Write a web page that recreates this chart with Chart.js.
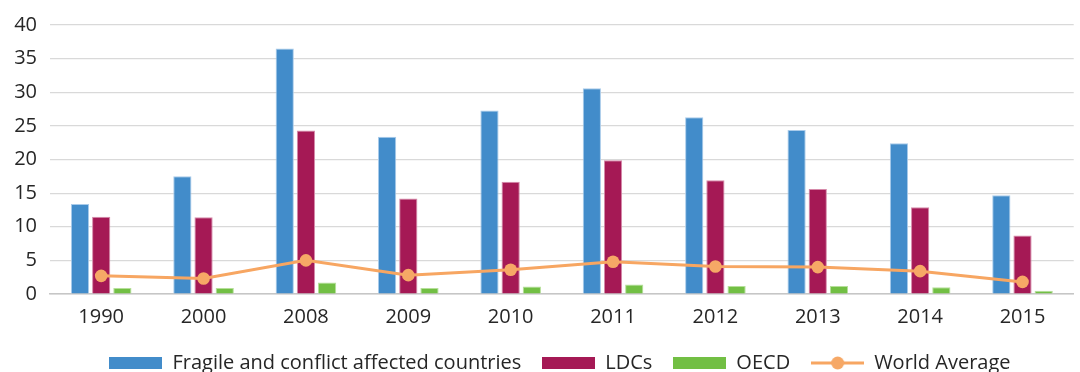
<!DOCTYPE html>
<html>
<head>
<meta charset="utf-8">
<script src="https://cdn.jsdelivr.net/npm/chart.js@4.4.1/dist/chart.umd.min.js"></script>
<style>
  html, body { margin: 0; padding: 0; background: #ffffff; }
  #wrap { width: 1080px; height: 372px; position: relative; }
</style>
</head>
<body>
<div id="wrap"><canvas id="chart"></canvas></div>
<script>
// Categories (years) and the four series, in percent
const years = ['1990', '2000', '2008', '2009', '2010', '2011', '2012', '2013', '2014', '2015'];
const fragile = [13.4, 17.5, 36.5, 23.4, 27.3, 30.6, 26.3, 24.4, 22.4, 14.7];
const ldcs = [11.5, 11.4, 24.3, 14.2, 16.7, 19.9, 16.9, 15.6, 12.9, 8.7];
const oecd = [0.9, 0.9, 1.7, 0.9, 1.1, 1.4, 1.2, 1.2, 1.0, 0.5];
const worldAverage = [2.7, 2.3, 5.0, 2.8, 3.6, 4.8, 4.1, 4.0, 3.4, 1.8];
const seriesNames = ['Fragile and conflict affected countries', 'LDCs', 'OECD', 'World Average'];
const yAxisMin = 0;
const yAxisMax = 40;
const yAxisStep = 5;

const FONT = "'Open Sans', 'Noto Sans', sans-serif";
const TEXT = '#262626';
const COLORS = {
  blue: '#428cca', blueEdge: '#a9cbea',
  maroon: '#a51955', maroonEdge: '#d68aaa',
  green: '#72bf44', greenEdge: '#b6df9a',
  orange: '#f7a662', orangeDot: '#f6a866'
};

// Legend swatches drawn onto small canvases
function rectSwatch(color) {
  const c = document.createElement('canvas');
  c.width = 53; c.height = 12;
  const g = c.getContext('2d');
  g.fillStyle = color;
  g.fillRect(0, 0, 53, 12);
  return c;
}
function lineSwatch(color, dot) {
  const c = document.createElement('canvas');
  c.width = 53; c.height = 14;
  const g = c.getContext('2d');
  g.strokeStyle = color;
  g.lineWidth = 3;
  g.beginPath(); g.moveTo(0, 7); g.lineTo(53, 7); g.stroke();
  g.fillStyle = dot;
  g.beginPath(); g.arc(26.5, 7, 6.5, 0, Math.PI * 2); g.fill();
  return c;
}
const swatches = [
  rectSwatch(COLORS.blue), rectSwatch(COLORS.maroon), rectSwatch(COLORS.green),
  lineSwatch(COLORS.orange, COLORS.orangeDot)
];

// Nudges the legend block into place after layout
const legendShift = {
  id: 'legendShift',
  afterLayout(chart) {
    const lg = chart.legend;
    if (!lg) return;
    const dx = chart.options.plugins.legendShift.dx;
    const dy = chart.options.plugins.legendShift.dy;
    lg.left += dx; lg.right += dx;
    lg.top += dy; lg.bottom += dy;
  }
};

const barCommon = {
  categoryPercentage: 0.621,
  barPercentage: 0.86,
  borderWidth: 1,
  borderSkipped: 'bottom',
  order: 1
};

new Chart(document.getElementById('chart'), {
  type: 'bar',
  data: {
    labels: years,
    datasets: [
      Object.assign({ label: seriesNames[0], data: fragile, backgroundColor: COLORS.blue, borderColor: COLORS.blueEdge }, barCommon),
      Object.assign({ label: seriesNames[1], data: ldcs, backgroundColor: COLORS.maroon, borderColor: COLORS.maroonEdge }, barCommon),
      Object.assign({ label: seriesNames[2], data: oecd, backgroundColor: COLORS.green, borderColor: COLORS.greenEdge }, barCommon),
      {
        type: 'line',
        label: seriesNames[3],
        data: worldAverage,
        borderColor: COLORS.orange,
        borderWidth: 3,
        backgroundColor: COLORS.orangeDot,
        pointBackgroundColor: COLORS.orangeDot,
        pointBorderWidth: 0,
        pointRadius: 6.3,
        tension: 0,
        fill: false,
        order: 0
      }
    ]
  },
  options: {
    responsive: true,
    maintainAspectRatio: false,
    animation: false,
    devicePixelRatio: 1,
    layout: { padding: { top: 23, left: 0, right: 0, bottom: -8 } },
    scales: {
      x: {
        grid: { display: false, drawTicks: false },
        border: { display: true, color: '#c6c6c6', width: 1.5 },
        ticks: { color: TEXT, font: { family: FONT, size: 20 }, padding: 11, maxRotation: 0 },
        afterFit(scale) { scale.height = scale.height - 11; }
      },
      y: {
        min: yAxisMin,
        max: yAxisMax,
        grid: { color: '#d9d9d9', lineWidth: 1.2, drawTicks: false },
        border: { display: false },
        ticks: { stepSize: yAxisStep, color: TEXT, font: { family: FONT, size: 20 }, padding: 13 },
        afterFit(scale) { scale.width = 50; }
      }
    },
    plugins: {
      tooltip: { enabled: false },
      legendShift: { dx: 20, dy: 3 },
      legend: {
        position: 'bottom',
        align: 'center',
        labels: {
          usePointStyle: true,
          pointStyleWidth: 53,
          boxHeight: 14,
          padding: 21,
          color: TEXT,
          font: { family: FONT, size: 20 },
          generateLabels() {
            return seriesNames.map((name, i) => ({
              text: name,
              pointStyle: swatches[i],
              datasetIndex: i,
              hidden: false,
              lineWidth: 0,
              fontColor: TEXT
            }));
          }
        }
      }
    }
  },
  plugins: [legendShift]
});
</script>
</body>
</html>
